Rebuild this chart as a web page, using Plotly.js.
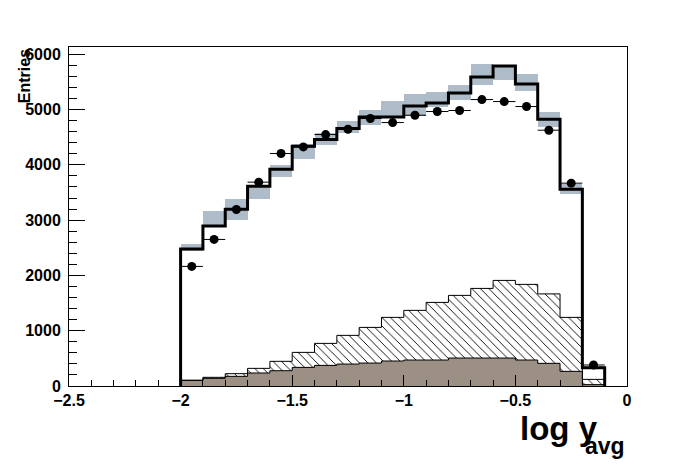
<!DOCTYPE html>
<html>
<head>
<meta charset="utf-8">
<script src="https://cdn.plot.ly/plotly-3.0.1.min.js"></script>
<style>html,body{margin:0;padding:0;background:#fff;}#chart{width:696px;height:472px;}</style>
</head>
<body>
<div id="chart"></div>
<script>
// bin centres of log y_avg (bin width 0.1)
const binCenters = [-1.95,-1.85,-1.75,-1.65,-1.55,-1.45,-1.35,-1.25,-1.15,-1.05,-0.95,-0.85,-0.75,-0.65,-0.55,-0.45,-0.35,-0.25,-0.15];
const binWidth = 0.1;
// total MC histogram (black thick line)
const mcTotal = [2476,2892,3199,3615,3922,4338,4458,4657,4867,4867,5066,5120,5301,5590,5789,5464,4826,3560,330];
// systematic band (grey)
const bandLow  = [2440,2870,3000,3385,3783,4103,4368,4585,4730,4860,4880,5048,5169,5446,5530,5337,4681,3482,300];
const bandHigh = [2561,3163,3380,3615,3994,4386,4578,4789,4988,5151,5277,5319,5440,5832,5789,5639,4952,3663,360];
// data points
const dataY = [2163,2651,3193,3687,4205,4325,4548,4645,4838,4765,4898,4965,4983,5181,5145,5055,4627,3669,380];
// background components (stacked)
const bgTan   = [103,139,175,235,277,337,373,397,415,452,470,470,506,506,506,470,410,265,25];
const bgHatch = [103,157,223,319,446,608,771,916,1060,1241,1368,1512,1639,1765,1910,1838,1666,1241,120];
// axis titles
const xTitleMain = 'log y';
const xTitleSub = 'avg';
const yTitle = 'Entries';

function stepXY(vals){
  const xs=[binCenters[0]-binWidth/2], ys=[0];
  for(let i=0;i<vals.length;i++){ xs.push(binCenters[i]-binWidth/2); ys.push(vals[i]); }
  const last=binCenters[binCenters.length-1]+binWidth/2;
  xs.push(last); ys.push(vals[vals.length-1]);
  xs.push(last); ys.push(0);
  return {xs, ys};
}
const widths = binCenters.map(()=>binWidth);
const hatchDiff = bgHatch.map((v,i)=>v-bgTan[i]);
const bandDiff = bandHigh.map((v,i)=>v-bandLow[i]);

const sMC = stepXY(mcTotal), sTan = stepXY(bgTan), sHatch = stepXY(bgHatch);

const traces = [
  {type:'bar', x:binCenters, y:bandDiff, base:bandLow, width:widths, marker:{color:'#aebbc8', line:{width:0}}, hoverinfo:'skip'},
  {type:'bar', x:binCenters, y:bgTan, base:0, width:widths, marker:{color:'#9c8f84', line:{width:0}}, hoverinfo:'skip'},
  {type:'bar', x:binCenters, y:hatchDiff, base:bgTan, width:widths,
   marker:{color:'#ffffff', line:{width:0}, pattern:{shape:'\\', fgcolor:'#000000', bgcolor:'#ffffff', size:6, solidity:0.15}}, hoverinfo:'skip'},
  {type:'scatter', mode:'lines', x:sTan.xs, y:sTan.ys, line:{color:'#000', width:1, shape:'hv'}, hoverinfo:'skip'},
  {type:'scatter', mode:'lines', x:sHatch.xs, y:sHatch.ys, line:{color:'#000', width:1, shape:'hv'}, hoverinfo:'skip'},
  {type:'scatter', mode:'lines', x:sMC.xs, y:sMC.ys, line:{color:'#000', width:3, shape:'hv'}, hoverinfo:'skip'},
  {type:'scatter', mode:'markers', x:binCenters, y:dataY,
   marker:{color:'#000', size:9, symbol:'circle'},
   error_x:{type:'constant', value:binWidth/2, color:'#000', thickness:1, width:0}, hoverinfo:'skip'}
];

const fam = 'Liberation Sans, Arial, sans-serif';
const tickFont = {family:fam, size:16, color:'#000', weight:'bold'};
const layout = {
  width:696, height:472,
  margin:{l:69, r:69, t:47, b:86},
  paper_bgcolor:'#fff', plot_bgcolor:'#fff',
  showlegend:false, barmode:'overlay', bargap:0,
  xaxis:{range:[-2.5,0], tickmode:'linear', tick0:-2.5, dtick:0.5, ticks:'inside', ticklen:11, tickwidth:1, tickcolor:'#000',
    minor:{dtick:0.1, ticks:'inside', ticklen:6, tickwidth:1, tickcolor:'#000'},
    showgrid:false, zeroline:false, showline:true, linecolor:'#000', linewidth:1, mirror:true,
    tickfont:tickFont, ticklabelstandoff:0},
  yaxis:{range:[0,6132], tickmode:'linear', tick0:0, dtick:1000, ticks:'inside', ticklen:16, tickwidth:1, tickcolor:'#000',
    minor:{dtick:200, ticks:'inside', ticklen:8, tickwidth:1, tickcolor:'#000'},
    showgrid:false, zeroline:false, showline:true, linecolor:'#000', linewidth:1, mirror:true,
    tickfont:tickFont, ticklabelstandoff:4},
  annotations:[
    {text:xTitleMain, xref:'paper', yref:'paper', x:0.951, y:-0.065, xanchor:'right', yanchor:'top', showarrow:false,
     font:{family:fam, size:33, color:'#000', weight:'bold'}},
    {text:xTitleSub, xref:'paper', yref:'paper', x:1.0, y:-0.132, xanchor:'right', yanchor:'top', showarrow:false,
     font:{family:fam, size:23, color:'#000', weight:'bold'}},
    {text:yTitle, xref:'paper', yref:'paper', x:-0.08, y:0.915, xanchor:'center', yanchor:'middle', textangle:-90, showarrow:false,
     font:{family:fam, size:16, color:'#000', weight:'bold'}}
  ]
};
Plotly.newPlot('chart', traces, layout, {staticPlot:true, displayModeBar:false});
</script>
</body>
</html>
